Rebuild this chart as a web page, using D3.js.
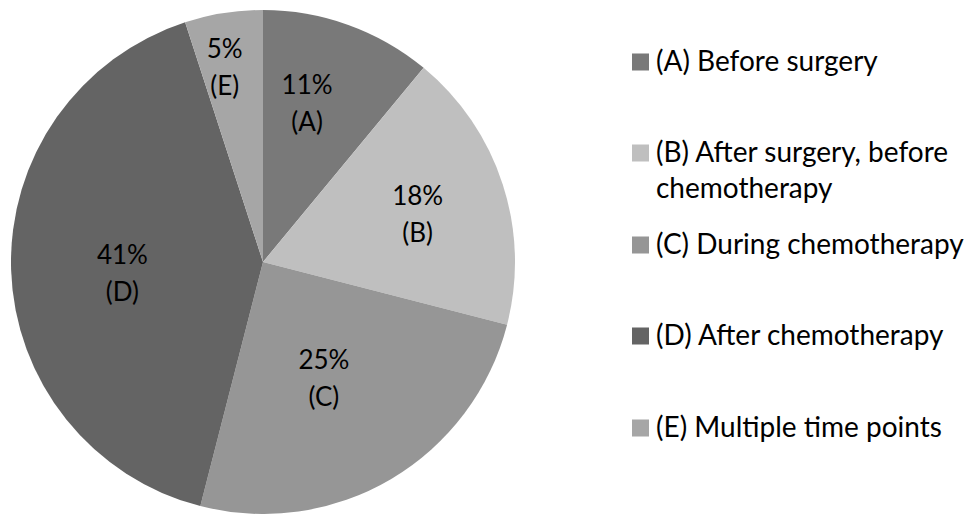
<!DOCTYPE html>
<html>
<head>
<meta charset="utf-8">
<script src="https://cdn.jsdelivr.net/npm/d3@7"></script>
<style>
  html, body { margin: 0; padding: 0; background: #ffffff; }
  svg { display: block; }
  text { font-family: Lato, "Open Sans", sans-serif; fill: #000000; }
</style>
</head>
<body>
<svg id="chart" width="972" height="514"></svg>
<script>
// Share of patients by timing of assessment
const codes = ["A", "B", "C", "D", "E"];
const categories = ["Before surgery", "After surgery, before chemotherapy", "During chemotherapy", "After chemotherapy", "Multiple time points"];
const legendLines = [["(A) Before surgery"], ["(B) After surgery, before", "chemotherapy"], ["(C) During chemotherapy"], ["(D) After chemotherapy"], ["(E) Multiple time points"]];
const values = [11, 18, 25, 41, 5];
const colors = ["#797979", "#bfbfbf", "#969696", "#646464", "#a6a6a6"];

// Layout
const cx = 263, cy = 262, radius = 252;
// label placement inside each slice: distance from centre and angular nudge (degrees) from the slice mid-angle
const labelPlacement = {
  A: { r: 165, nudge: -4.3 },
  B: { r: 162, nudge: 0.7 },
  C: { r: 131, nudge: 2.9 },
  D: { r: 141, nudge: -2.7 },
  E: { r: 199, nudge: -2.1 }
};
const legendRowY = [62, 153, 245, 336, 428];
const labelLineGap = 37;

const svg = d3.select("#chart");
const color = d3.scaleOrdinal().domain(codes).range(colors);
const data = codes.map((c, i) => ({ code: c, name: categories[i], value: values[i] }));

const pie = d3.pie().value(d => d.value).sort(null);
const arc = d3.arc().innerRadius(0).outerRadius(radius);

const g = svg.append("g").attr("transform", `translate(${cx},${cy})`);
const arcs = pie(data);

g.selectAll("path.slice")
  .data(arcs)
  .join("path")
  .attr("class", "slice")
  .attr("d", arc)
  .attr("fill", d => color(d.data.code));

function labelPos(d) {
  const p = labelPlacement[d.data.code];
  const a = (d.startAngle + d.endAngle) / 2 + p.nudge * Math.PI / 180;
  return [p.r * Math.sin(a), -p.r * Math.cos(a)];
}

const labels = g.selectAll("text.val")
  .data(arcs)
  .join("text")
  .attr("class", "val")
  .attr("text-anchor", "middle")
  .attr("font-size", 26)
  .attr("transform", d => `translate(${labelPos(d)})`);
labels.append("tspan").attr("x", 0).attr("y", -9).text(d => d.data.value + "%");
labels.append("tspan").attr("x", 0).attr("y", -9 + labelLineGap).text(d => "(" + d.data.code + ")");

// Legend
const leg = svg.append("g").attr("transform", "translate(632,0)");
const items = leg.selectAll("g.item")
  .data(data)
  .join("g")
  .attr("class", "item")
  .attr("transform", (d, i) => `translate(0,${legendRowY[i]})`);
items.append("rect")
  .attr("x", 0).attr("y", -8.5)
  .attr("width", 17).attr("height", 17)
  .attr("fill", d => color(d.code));
const lt = items.append("text")
  .attr("x", 24)
  .attr("y", 8.5)
  .attr("font-size", 28);
lt.selectAll("tspan")
  .data((d, i) => legendLines[i])
  .join("tspan")
  .attr("x", 24)
  .attr("dy", (t, j) => j === 0 ? 0 : 36)
  .text(t => t);
</script>
</body>
</html>
